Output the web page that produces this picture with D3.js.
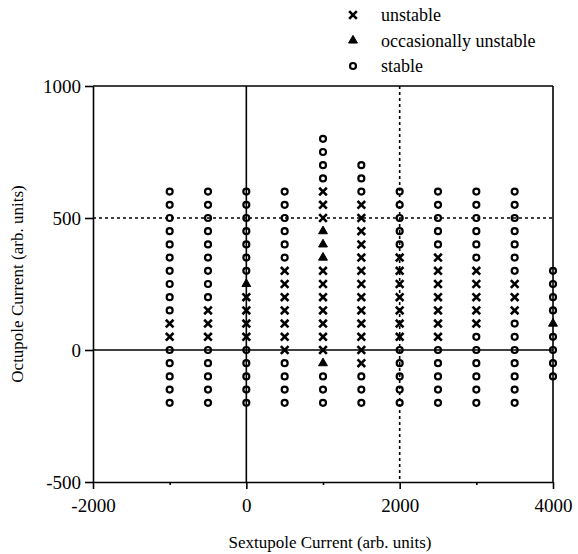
<!DOCTYPE html>
<html>
<head>
<meta charset="utf-8">
<script src="https://cdn.jsdelivr.net/npm/d3@7"></script>
<style>
  body { margin: 0; background: #fff; }
  svg text { font-family: "Liberation Serif", "Times New Roman", "DejaVu Serif", serif; fill: #000; }
</style>
</head>
<body>
<div id="app"></div>
<script>
// sextupole current of each measured column
const sextupole = [-1000, -500, 0, 500, 1000, 1500, 2000, 2500, 3000, 3500, 4000];

// octupole levels, top to bottom
const octupole = [800, 750, 700, 650, 600, 550, 500, 450, 400, 350, 300,
                  250, 200, 150, 100, 50, 0, -50, -100, -150, -200];

// state per column, one char per octupole level
// o = stable, x = unstable, t = occasionally unstable, . = not measured
const states = [
  "....ooooooooooxxooooo",
  "....oooooooooxxxooooo",
  "....oooooootxxxxooooo",
  "....ooooooxxxxxxxoooo",
  "ooooxxxtttxxxxxxxtooo",
  "..oooxxxxxxxxxxxxxooo",
  "....oooooxxxxxxxooooo",
  "....oooooxxxxxxxooooo",
  "....ooooooxxxxxoooooo",
  "....oooooooxxxooooooo",
  "..........ooootoooo.."
];

const xTicks = [-2000, 0, 2000, 4000];
const xMinor = [-1000, 1000, 3000];
const yTicks = [-500, 0, 500, 1000];

const legendItems = [
  { key: "x", label: "unstable" },
  { key: "t", label: "occasionally unstable" },
  { key: "o", label: "stable" }
];

const W = 578, H = 554;
const svg = d3.select("#app").append("svg")
  .attr("width", W).attr("height", H);

const x = d3.scaleLinear().domain([-2000, 4000]).range([93, 553]);
const y = d3.scaleLinear().domain([-500, 1000]).range([482, 86]);

const points = [];
sextupole.forEach((s, i) => {
  states[i].split("").forEach((c, j) => {
    if (c !== ".") points.push({ s: s, o: octupole[j], k: c });
  });
});

// reference lines
const g = svg.append("g").attr("stroke", "#000").attr("stroke-width", 1.6);
function hline(v, dash) {
  g.append("line").attr("x1", x(-2000)).attr("x2", x(4000)).attr("y1", y(v)).attr("y2", y(v))
    .attr("stroke-dasharray", dash ? "3,3" : null);
}
function vline(v, dash) {
  g.append("line").attr("x1", x(v)).attr("x2", x(v)).attr("y1", y(1000)).attr("y2", y(-500))
    .attr("stroke-dasharray", dash ? "3,3" : null);
}
vline(0, false);
hline(0, false);
vline(2000, true);
hline(500, true);
// frame top / right
hline(1000, false);
vline(4000, false);

// axes
const fmt = d => String(d);
svg.append("g").attr("transform", `translate(0,${y(-500)})`)
  .call(d3.axisBottom(x).tickValues(xTicks).tickSize(7).tickSizeOuter(0).tickFormat(fmt).tickPadding(10));
svg.append("g").attr("transform", `translate(0,${y(-500)})`)
  .call(d3.axisBottom(x).tickValues(xMinor).tickSize(3).tickSizeOuter(0).tickFormat(""))
  .call(a => a.select(".domain").remove());
const yAxis = svg.append("g").attr("transform", `translate(${x(-2000)},0)`)
  .call(d3.axisLeft(y).tickValues(yTicks).tickSize(8).tickSizeOuter(0).tickFormat(fmt).tickPadding(4));

svg.selectAll(".domain, .tick line").attr("stroke", "#000").attr("stroke-width", 1.6);
svg.selectAll(".tick text").style("font-size", "19px");
svg.selectAll("g").attr("font-family", null);
yAxis.selectAll(".tick text").attr("dy", "0.32em");

// markers
const sym = {
  o: d3.symbol(d3.symbolCircle, 28),
  x: d3.symbol(d3.symbolX, 40),
  t: d3.symbol(d3.symbolTriangle, 34)
};
function styleMark(sel) {
  sel.attr("d", d => sym[d.k]())
    .attr("fill", d => d.k === "t" ? "#000" : "none")
    .attr("stroke", "#000")
    .attr("stroke-width", d => d.k === "x" ? 2.6 : d.k === "o" ? 2.2 : 1);
}

svg.append("g").selectAll("path").data(points).join("path")
  .attr("transform", d => `translate(${x(d.s)},${y(d.o)})`)
  .call(styleMark);

// legend
const leg = svg.append("g").selectAll("g").data(legendItems).join("g")
  .attr("transform", (d, i) => `translate(353,${15 + i * 25.5})`);
leg.append("path").datum(d => ({ k: d.key })).call(styleMark);
leg.append("text").attr("x", 28).attr("y", 6).style("font-size", "18px").text(d => d.label);

// axis titles
svg.append("text").attr("x", 330).attr("y", 548).attr("text-anchor", "middle")
  .style("font-size", "17px").text("Sextupole Current (arb. units)");
svg.append("text").attr("transform", "translate(23,284) rotate(-90)").attr("text-anchor", "middle")
  .style("font-size", "17px").text("Octupole Current (arb. units)");
</script>
</body>
</html>
